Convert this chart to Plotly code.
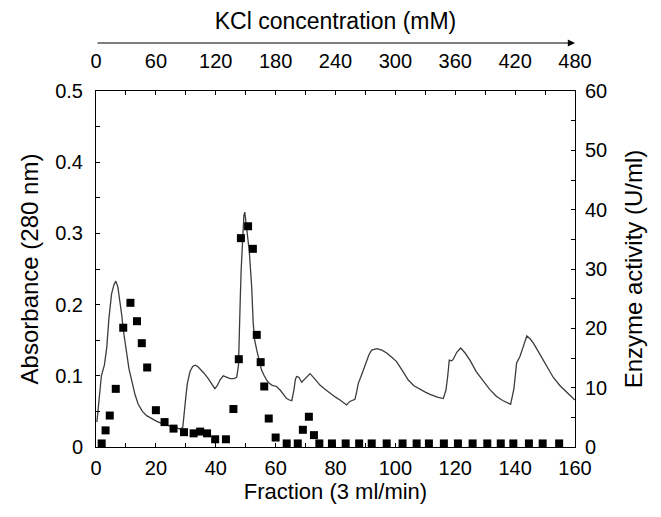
import plotly.graph_objects as go

# ---------------- data ----------------
fraction_line = [0.3, 1.0, 1.8, 2.8, 3.6, 4.3, 5.2, 6.0, 6.6, 7.3, 8.0, 8.6, 9.1, 10.2, 11.0, 11.9,
                 13.0, 14.1, 15.5, 16.9, 18.5, 20.3, 22.5, 24.7, 27.0, 28.3, 29.0, 29.5, 30.0, 30.5,
                 31.4, 32.3, 33.1, 34.0, 34.7, 36.0, 37.5, 38.8, 39.7, 40.5, 41.4, 42.5, 43.5, 44.8,
                 46.0, 47.0, 47.6, 47.9, 48.2, 48.5, 48.8, 49.1, 49.4, 49.7, 50.0, 50.4, 50.8, 51.2,
                 51.6, 52.0, 52.5, 53.0, 53.7, 54.5, 55.3, 56.2, 57.0, 58.0, 58.7, 59.5, 60.3, 61.5,
                 62.6, 63.7, 64.6, 65.4, 66.1, 66.6, 67.0, 67.8, 68.7, 69.8, 71.5, 73.0, 74.8, 76.5,
                 78.2, 80.0, 81.5, 83.7, 84.8, 86.5, 87.1, 87.6, 88.7, 89.5, 90.4, 91.2, 92.1, 93.8,
                 95.5, 97.1, 98.8, 100.4, 102.4, 104.3, 106.2, 108.2, 110.0, 111.6, 114.0, 116.0,
                 116.9, 117.5, 118.0, 118.8, 119.3, 120.5, 121.8, 123.3, 124.9, 127.0, 129.4, 131.5,
                 133.8, 136.0, 138.5, 139.6, 140.5, 141.6, 142.8, 143.9, 145.0, 146.1, 148.3, 150.5,
                 152.7, 155.0, 157.3, 159.7, 160.0]
absorbance = [0.035, 0.070, 0.100, 0.115, 0.140, 0.180, 0.215, 0.228, 0.233, 0.225, 0.205, 0.185,
              0.165, 0.132, 0.110, 0.094, 0.074, 0.060, 0.050, 0.044, 0.040, 0.036, 0.032, 0.029,
              0.026, 0.025, 0.028, 0.045, 0.070, 0.089, 0.106, 0.113, 0.115, 0.113, 0.110, 0.104,
              0.096, 0.088, 0.082, 0.086, 0.094, 0.100, 0.098, 0.096, 0.096, 0.098, 0.115, 0.150,
              0.210, 0.250, 0.280, 0.310, 0.325, 0.330, 0.320, 0.305, 0.290, 0.275, 0.250, 0.225,
              0.175, 0.150, 0.136, 0.120, 0.108, 0.100, 0.094, 0.089, 0.087, 0.086, 0.085, 0.080,
              0.074, 0.068, 0.066, 0.065, 0.080, 0.095, 0.099, 0.098, 0.091, 0.096, 0.103, 0.096,
              0.087, 0.081, 0.075, 0.070, 0.066, 0.059, 0.064, 0.067, 0.078, 0.089, 0.101, 0.110,
              0.122, 0.130, 0.136, 0.138, 0.136, 0.132, 0.126, 0.120, 0.107, 0.094, 0.086, 0.081,
              0.077, 0.074, 0.070, 0.068, 0.080, 0.100, 0.122, 0.121, 0.123, 0.133, 0.139, 0.132,
              0.122, 0.106, 0.092, 0.081, 0.071, 0.065, 0.060, 0.082, 0.118, 0.127, 0.142, 0.156,
              0.152, 0.146, 0.130, 0.113, 0.098, 0.086, 0.076, 0.067, 0.066]

fraction_pts = [1.9, 3.2, 4.6, 6.6, 9.1, 11.5, 13.7, 15.3, 17.1, 20.0, 22.9, 25.9, 29.4, 32.6,
                34.8, 37.1, 39.8, 43.4, 45.9, 47.7, 48.4, 50.8, 52.4, 53.7, 55.0, 56.2, 57.7,
                60.0, 63.7, 67.4, 69.1, 71.1, 72.8, 74.6, 78.8, 83.4, 87.9, 92.1, 97.1, 102.4,
                107.1, 111.2, 116.2, 120.9, 125.8, 130.7, 135.2, 139.4, 144.6, 149.2, 154.7]
activity = [0.6, 2.8, 5.3, 9.8, 20.1, 24.3, 21.2, 17.5, 13.4, 6.2, 4.2, 3.1, 2.5, 2.3,
            2.6, 2.3, 1.3, 1.3, 6.4, 14.8, 35.2, 37.2, 33.4, 18.9, 14.3, 10.2, 4.8,
            1.6, 0.6, 0.6, 2.9, 5.1, 2.0, 0.6, 0.6, 0.6, 0.6, 0.6, 0.6, 0.6,
            0.6, 0.6, 0.6, 0.6, 0.6, 0.6, 0.6, 0.6, 0.6, 0.6, 0.6]

fraction_ticks = [0, 20, 40, 60, 80, 100, 120, 140, 160]
kcl_ticks = [0, 60, 120, 180, 240, 300, 360, 420, 480]
abs_ticks = [0, 0.1, 0.2, 0.3, 0.4, 0.5]
abs_labels = ["0", "0.1", "0.2", "0.3", "0.4", "0.5"]
act_ticks = [0, 10, 20, 30, 40, 50, 60]

# ---------------- layout geometry (page px; page has an 8px body margin) ----------------
OFF = 8
W, H = 661 - OFF, 517 - OFF
PL, PR, PT, PB = 96 - OFF, 575 - OFF, 91 - OFF, 447 - OFF
MT = 32
paper_h = PB - MT
dom_top = (PB - PT) / paper_h
FONT = "Liberation Sans, Arial, Helvetica, sans-serif"

fig = go.Figure()
fig.add_trace(go.Scatter(x=fraction_line, y=absorbance, mode="lines",
                         line=dict(color="#3c3c3c", width=1.3),
                         xaxis="x", yaxis="y", showlegend=False, hoverinfo="skip"))
fig.add_trace(go.Scatter(x=fraction_pts, y=activity, mode="markers",
                         marker=dict(symbol="square", size=8, color="black"),
                         xaxis="x", yaxis="y2", showlegend=False, hoverinfo="skip"))
fig.add_trace(go.Scatter(x=[kcl_ticks[0], kcl_ticks[-1]], y=[None, None], mode="lines",
                         xaxis="x2", yaxis="y", showlegend=False, hoverinfo="skip"))

tick_common = dict(ticks="inside", ticklen=4, tickwidth=1, tickcolor="black",
                   showline=True, linecolor="black", linewidth=1, automargin=False,
                   showgrid=False, zeroline=False, tickfont=dict(size=20))

fig.update_layout(
    width=W, height=H,
    margin=dict(l=PL, r=W - PR, t=MT, b=H - PB, pad=0),
    plot_bgcolor="white", paper_bgcolor="white",
    font=dict(family=FONT, color="black", size=20),
    showlegend=False,
    xaxis=dict(range=[0, 160], tickmode="array", tickvals=fraction_ticks,
               minor=dict(tickmode="linear", tick0=0, dtick=10, ticks="inside", ticklen=4,
                          tickcolor="black", tickwidth=1),
               mirror="ticks", ticklabelstandoff=3,
               title=dict(text="Fraction (3 ml/min)", font=dict(size=22), standoff=1),
               anchor="y", **tick_common),
    xaxis2=dict(range=[0, 480], overlaying="x", side="top", anchor="free",
                position=(PB - (72 - OFF)) / paper_h, automargin=False,
                tickmode="array", tickvals=kcl_ticks, ticks="", showline=False,
                showgrid=False, zeroline=False, tickfont=dict(size=20),
                title=dict(text="KCl concentration (mM)", font=dict(size=23), standoff=14)),
    yaxis=dict(domain=[0, dom_top], range=[0, 0.5], tickmode="array", tickvals=abs_ticks,
               ticktext=abs_labels,
               minor=dict(tickmode="linear", tick0=0, dtick=0.05, ticks="inside", ticklen=4,
                          tickcolor="black", tickwidth=1),
               ticklabelstandoff=8,
               title=dict(text="Absorbance (280 nm)", font=dict(size=24), standoff=9),
               anchor="x", **tick_common),
    yaxis2=dict(range=[0, 60], overlaying="y", side="right", anchor="x",
                tickmode="array", tickvals=act_ticks,
                minor=dict(tickmode="linear", tick0=0, dtick=5, ticks="inside", ticklen=4,
                           tickcolor="black", tickwidth=1),
                ticklabelstandoff=5,
                title=dict(text="Enzyme activity (U/ml)", font=dict(size=24), standoff=18),
                **tick_common),
)

fig.add_annotation(x=kcl_ticks[-1], y=(PB - (43 - OFF)) / paper_h, xref="x2", yref="paper",
                   ax=kcl_ticks[0], ay=0, axref="x2", ayref="pixel",
                   showarrow=True, arrowhead=2, arrowsize=1.2, arrowwidth=1.2,
                   arrowcolor="black", text="")

fig.write_html("out.html")
